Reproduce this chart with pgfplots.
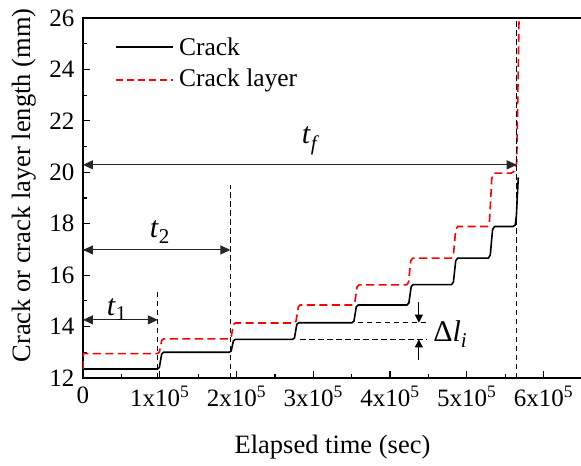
\documentclass[border=0pt]{standalone}
\usepackage{pgfplots}
\pgfplotsset{compat=1.18}
\usepackage{fontspec}
\setmainfont{Liberation Serif}
\usetikzlibrary{arrows.meta}
\begin{document}
\fontsize{25bp}{30bp}\selectfont
\begin{tikzpicture}
\begin{axis}[name=ax, scale only axis, width=499bp, height=360bp,
  xmin=0, xmax=650000, ymin=12, ymax=26,
  xtick={0,100000,200000,300000,400000,500000,600000},
  xticklabels={0, 1x10\textsuperscript{5}, 2x10\textsuperscript{5}, 3x10\textsuperscript{5}, 4x10\textsuperscript{5}, 5x10\textsuperscript{5}, 6x10\textsuperscript{5}},
  minor x tick num=1,
  ytick={12,14,...,26}, minor y tick num=1,
  tick pos=left, tick align=inside,
  major tick length=7bp, minor tick length=4bp,
  axis line style={line width=1.6bp},
  every tick/.style={line width=1.2bp, black},
  /pgf/number format/assume math mode=true,
  scaled x ticks=false,
  xlabel={Elapsed time (sec)},
  ylabel={Crack or crack layer length (mm)},
  label style={font=\fontsize{26.5bp}{31bp}\selectfont},
  xlabel style={at={(axis description cs:0.5,0)}, anchor=base, yshift=-75bp},
  ylabel style={at={(axis description cs:-0.106,0.535)}, anchor=base},
]
\addplot[black, line width=1.6bp] coordinates {
(0,12.35) (97000,12.35) (99500,12.415) (102500,12.935) (105000,13.0)
(190500,13.0) (193000,13.05) (196000,13.45) (198500,13.5)
(273000,13.5) (275500,13.565) (278500,14.085) (281000,14.15)
(350500,14.15) (353000,14.22) (356000,14.77) (358500,14.84)
(422000,14.84) (424500,14.92) (427500,15.55) (430000,15.63)
(480000,15.63) (482500,15.73) (485500,16.56) (488000,16.66)
(528000,16.66) (530500,16.78) (533500,17.77) (536000,17.89)
(560000,17.89) (563000,17.95) (564500,18.3) (567000,19.8)
};
\addplot[red, line width=1.6bp, dash pattern=on 8bp off 4.5bp] coordinates {
(0,12.35) (500,12.95)
(97000,12.95) (99500,13.01) (102500,13.46) (105000,13.52)
(190500,13.52) (193000,13.58) (196000,14.08) (198500,14.14)
(275000,14.14) (277500,14.21) (280500,14.77) (283000,14.84)
(351500,14.84) (354000,14.92) (357000,15.54) (359500,15.62)
(421500,15.62) (424000,15.72) (427000,16.56) (429500,16.66)
(480000,16.66) (482500,16.78) (485500,17.77) (488000,17.89)
(527000,17.89) (529500,18.1) (532500,19.76) (535000,19.97)
(558000,19.97) (562000,20.05) (565000,20.4) (568000,26)
};
% legend
\draw[black, line width=1.6bp] (axis description cs:0.066,0.919) -- (axis description cs:0.180,0.919);
\node[anchor=base west, inner sep=0pt, font=\fontsize{25.5bp}{30bp}\selectfont] at ([yshift=-8bp]axis description cs:0.192,0.919) {Crack};
\draw[red, line width=1.6bp, dash pattern=on 7bp off 4bp] (axis description cs:0.066,0.828) -- (axis description cs:0.180,0.828);
\node[anchor=base west, inner sep=0pt, font=\fontsize{25.5bp}{30bp}\selectfont] at ([yshift=-7bp]axis description cs:0.192,0.828) {Crack layer};
% annotations
\draw[black, line width=1.1bp, dash pattern=on 5.5bp off 3.5bp] (axis cs:97500,12) -- (axis cs:97500,15.4);
\draw[black, line width=1.1bp, dash pattern=on 5.5bp off 3.5bp] (axis cs:192000,12) -- (axis cs:192000,19.5);
\draw[black, line width=1.1bp, dash pattern=on 5.5bp off 3.5bp] (axis cs:565000,12) -- (axis cs:565000,26);
\draw[black!85, line width=1.1bp, {Triangle[length=10bp,width=9bp]}-{Triangle[length=10bp,width=9bp]}] (axis cs:0,14.26) -- (axis cs:97500,14.26);
\draw[black!85, line width=1.1bp, {Triangle[length=10bp,width=9bp]}-{Triangle[length=10bp,width=9bp]}] (axis cs:0,16.98) -- (axis cs:192000,16.98);
\draw[black!85, line width=1.1bp, {Triangle[length=10bp,width=9bp]}-{Triangle[length=10bp,width=9bp]}] (axis cs:0,20.29) -- (axis cs:565000,20.29);
\node[anchor=base west, inner sep=0pt, font=\fontsize{30bp}{34bp}\selectfont] at (axis cs:31000,14.45) {\textit{t}\textsubscript{1}};
\node[anchor=base west, inner sep=0pt, font=\fontsize{30bp}{34bp}\selectfont] at (axis cs:87000,17.45) {\textit{t}\textsubscript{2}};
\node[anchor=base west, inner sep=0pt, font=\fontsize{30bp}{34bp}\selectfont] at (axis cs:285000,21.1) {\textit{t}\textsubscript{\textit{f}}};
\draw[black, line width=1.1bp, dash pattern=on 5.5bp off 3.5bp] (axis cs:358000,14.15) -- (axis cs:448000,14.15);
\draw[black, line width=1.1bp, dash pattern=on 5.5bp off 3.5bp] (axis cs:283000,13.5) -- (axis cs:448000,13.5);
\draw[black, line width=1bp, -{Triangle[length=8bp,width=8bp]}] (axis cs:437500,14.97) -- (axis cs:437500,14.15);
\draw[black, line width=1bp, -{Triangle[length=8bp,width=8bp]}] (axis cs:437500,12.7) -- (axis cs:437500,13.5);
\node[anchor=base west, inner sep=0pt, font=\fontsize{30bp}{34bp}\selectfont] at (axis cs:456000,13.41) {Δ\textit{l}\textsubscript{\textit{i}}};
\end{axis}
\pgfresetboundingbox
\path[use as bounding box] ([xshift=-83bp,yshift=-88bp]ax.south west) rectangle ([xshift=498bp,yshift=378bp]ax.south west);
\end{tikzpicture}
\end{document}
